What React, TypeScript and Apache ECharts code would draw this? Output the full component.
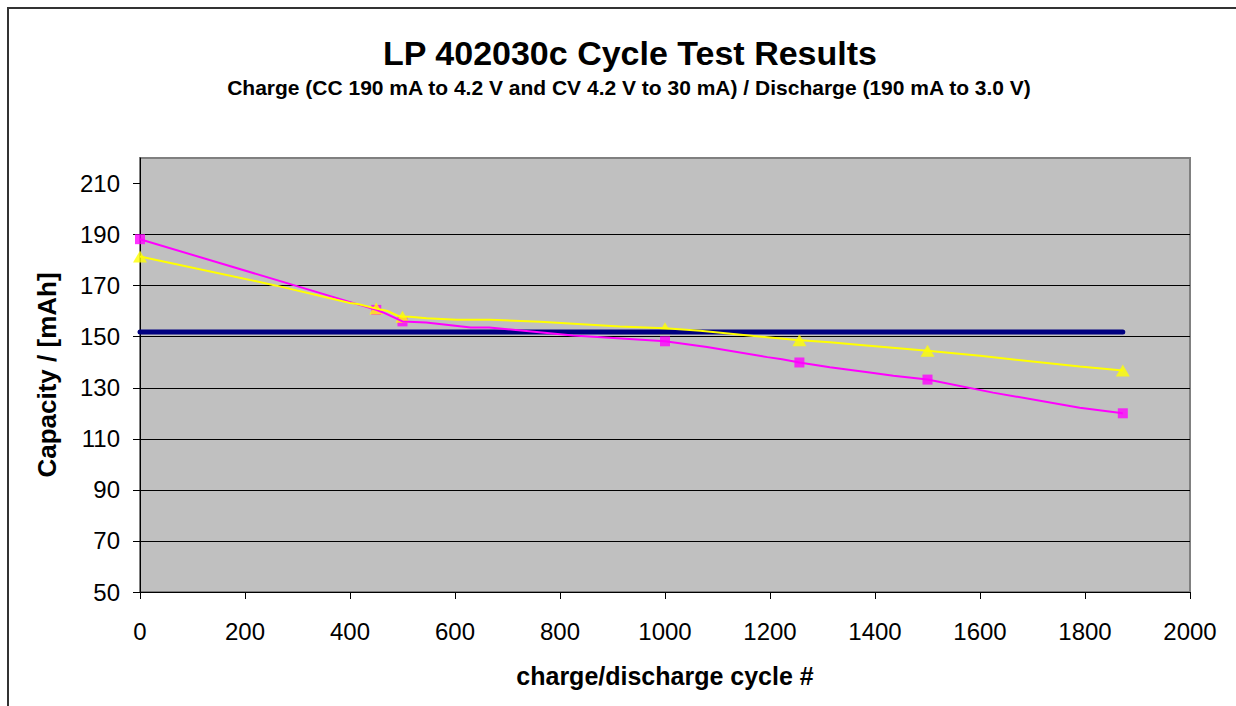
import React, { useEffect, useRef } from 'react';
import * as echarts from 'echarts';

const titleText = 'LP 402030c Cycle Test Results';
const subtitleText = 'Charge (CC 190 mA to 4.2 V and CV 4.2 V to 30 mA) / Discharge (190 mA to 3.0 V)';
const xAxisName = 'charge/discharge cycle #';
const yAxisName = 'Capacity / [mAh]';

const yTicks = [50, 70, 90, 110, 130, 150, 170, 190, 210];

const pinkCycles = [0, 450, 463, 500, 545, 630, 665, 825, 940, 1000, 1080, 1195, 1223, 1256, 1314, 1390, 1435, 1500, 1625, 1790, 1872];
const pinkValues = [188.2, 160.5, 159.5, 156.0, 155.6, 153.6, 153.6, 150.5, 149.0, 148.2, 146.0, 142.0, 141.2, 139.9, 138.0, 136.0, 134.7, 133.2, 128.1, 122.2, 120.0];

const yellowCycles = [0, 260, 400, 415, 450, 470, 491, 500, 514, 546, 603, 667, 762, 914, 1000, 1067, 1251, 1314, 1378, 1500, 1600, 1790, 1872];
const yellowValues = [181.4, 170.0, 163.2, 162.8, 161.0, 160.2, 158.2, 157.8, 157.8, 157.2, 156.6, 156.6, 155.9, 154.0, 153.3, 152.3, 148.7, 147.8, 146.7, 144.5, 142.5, 138.3, 136.8];

const markerCycles = [0, 450, 500, 1000, 1256, 1500, 1872];
const pinkMarkerValues = [188.2, 160.5, 156.0, 148.2, 139.9, 133.2, 120.0];
const yellowMarkerValues = [181.4, 161.0, 157.8, 153.3, 148.6, 144.5, 136.8];

const limitCycles = [0, 1872];
const limitValues = [151.8, 151.8];

const FONT = '"Liberation Sans", Arial, sans-serif';

const zip = (xs: number[], ys: number[]) => xs.map((x, i) => [x, ys[i]]);

export default function App() {
  const ref = useRef<HTMLDivElement>(null);
  useEffect(() => {
    if (!ref.current) return;
    const chart = echarts.init(ref.current, undefined, { renderer: 'svg' });
    chart.setOption({
      animation: false,
      backgroundColor: '#ffffff',
      graphic: [
        {
          type: 'rect',
          silent: true,
          z: -10,
          shape: { x: 8, y: 8, width: 1300, height: 800 },
          style: { fill: 'none', stroke: '#333333', lineWidth: 2 },
        },
        {
          type: 'text',
          x: 630,
          y: 53,
          style: {
            text: titleText,
            font: `bold 34px ${FONT}`,
            fill: '#000',
            align: 'center',
            verticalAlign: 'middle',
          },
        },
        {
          type: 'text',
          x: 629,
          y: 87,
          style: {
            text: subtitleText,
            font: `bold 21px ${FONT}`,
            fill: '#000',
            align: 'center',
            verticalAlign: 'middle',
          },
        },
      ],
      grid: {
        left: 140,
        right: 46,
        top: 158,
        bottom: 114,
        show: true,
        backgroundColor: '#c0c0c0',
        borderColor: '#808080',
        borderWidth: 2,
      },
      xAxis: {
        type: 'value',
        min: 0,
        max: 2000,
        interval: 200,
        name: xAxisName,
        nameLocation: 'middle',
        nameGap: 71,
        nameTextStyle: { fontSize: 25, fontWeight: 'bold', color: '#000', fontFamily: FONT },
        axisLine: { show: true, onZero: false, lineStyle: { color: '#000', width: 1 } },
        axisTick: { show: true, inside: false, length: 7, lineStyle: { color: '#000' } },
        axisLabel: { color: '#000', fontSize: 24, margin: 27, fontFamily: FONT, formatter: (v: number) => String(v) },
        splitLine: { show: false },
      },
      yAxis: {
        type: 'value',
        min: 50,
        max: 220,
        interval: 20,
        name: yAxisName,
        nameLocation: 'middle',
        nameGap: 80,
        nameRotate: 90,
        nameTextStyle: { fontSize: 26, fontWeight: 'bold', color: '#000', fontFamily: FONT },
        axisLine: { show: true, onZero: false, lineStyle: { color: '#000', width: 1 } },
        axisTick: { show: true, inside: false, length: 7, lineStyle: { color: '#000' }, customValues: yTicks },
        axisLabel: { color: '#000', fontSize: 24, margin: 20, fontFamily: FONT, customValues: yTicks, formatter: (v: number) => String(v) },
        splitLine: { show: true, showMinLine: false, showMaxLine: false, lineStyle: { color: '#000', width: 1 } },
      },
      series: [
        {
          name: 'limit',
          type: 'line',
          data: zip(limitCycles, limitValues),
          symbol: 'none',
          lineStyle: { color: '#000080', width: 5, cap: 'round' },
        },
        {
          name: 'pink',
          type: 'line',
          data: zip(pinkCycles, pinkValues),
          symbol: 'none',
          lineStyle: { color: '#ff00ff', width: 2 },
        },
        {
          name: 'pinkMarkers',
          type: 'scatter',
          data: zip(markerCycles, pinkMarkerValues),
          symbol: 'rect',
          symbolSize: 10,
          itemStyle: { color: '#ff00ff' },
        },
        {
          name: 'yellow',
          type: 'line',
          data: zip(yellowCycles, yellowValues),
          symbol: 'none',
          lineStyle: { color: '#ffff00', width: 2 },
        },
        {
          name: 'yellowMarkers',
          type: 'scatter',
          data: zip(markerCycles, yellowMarkerValues),
          symbol: 'triangle',
          symbolSize: [14, 12],
          itemStyle: { color: '#ffff00' },
        },
      ],
    });
    return () => chart.dispose();
  }, []);
  return (
    <div
      ref={ref}
      style={{ position: 'absolute', left: 0, top: 0, width: 1236, height: 706 }}
    />
  );
}
